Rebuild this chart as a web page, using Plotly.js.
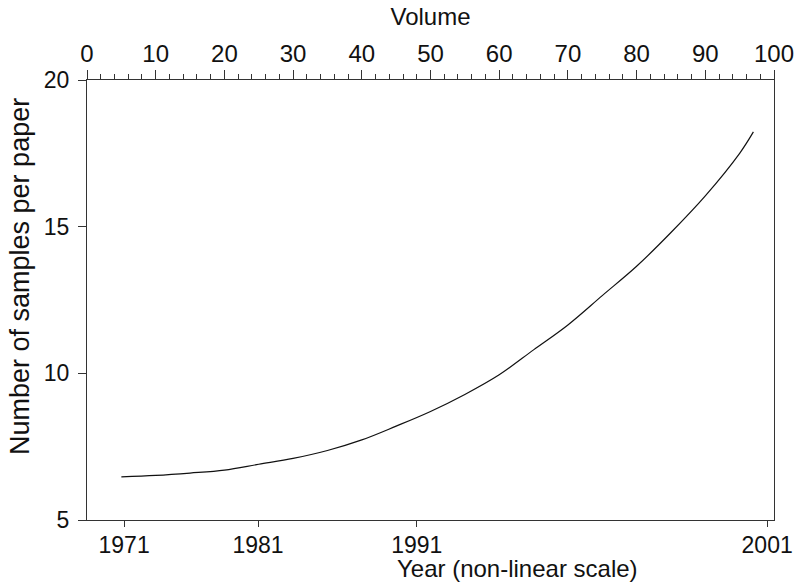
<!DOCTYPE html>
<html>
<head>
<meta charset="utf-8">
<script src="https://cdn.plot.ly/plotly-3.0.1.min.js"></script>
<style>html,body{margin:0;padding:0;background:#fff;}#chart{width:806px;height:586px;}</style>
</head>
<body>
<div id="chart"></div>
<script>
// Curve: volume number vs. samples per paper
const volume = [5, 10, 15, 20, 25, 30, 35, 40, 45, 50, 55, 60, 65, 70, 75, 80, 85, 90, 95, 97];
const samples = [6.47, 6.52, 6.6, 6.7, 6.9, 7.1, 7.37, 7.73, 8.2, 8.7, 9.28, 9.95, 10.8, 11.65, 12.65, 13.65, 14.8, 16.05, 17.5, 18.23];

// Bottom axis: year labels placed at their volume positions
const yearTickVolumes = [5.4, 24.9, 48, 99];
const yearTickLabels = ['1971', '1981', '1991', '2001'];

const yTicks = [5, 10, 15, 20];

const FONT = 'Liberation Sans, Arial, sans-serif';
const AX = '#333';

const trace = {
  x: volume, y: samples, type: 'scatter', mode: 'lines',
  line: {color: '#111', width: 1.2, shape: 'spline'},
  xaxis: 'x', yaxis: 'y', hoverinfo: 'skip', showlegend: false
};
// invisible trace to activate top axis
const traceTop = {
  x: [0, 100], y: [5, 5], type: 'scatter', mode: 'lines',
  line: {width: 0}, opacity: 0, xaxis: 'x2', yaxis: 'y', hoverinfo: 'skip', showlegend: false
};

const layout = {
  width: 806, height: 586,
  margin: {l: 87, r: 32, t: 80, b: 66},
  paper_bgcolor: '#fff', plot_bgcolor: '#fff',
  font: {family: FONT, size: 23, color: '#111'},
  showlegend: false,
  xaxis: {
    range: [0, 100], tickmode: 'array', tickvals: yearTickVolumes, ticktext: yearTickLabels,
    ticks: 'outside', ticklen: 6, tickcolor: AX, tickwidth: 1,
    showline: true, linecolor: AX, linewidth: 1, showgrid: false, zeroline: false,
    automargin: false, ticklabelstandoff: -2,
    tickfont: {family: FONT, size: 23, color: '#111'}
  },
  xaxis2: {
    overlaying: 'x', side: 'top', anchor: 'y',
    range: [0, 100], tickmode: 'linear', tick0: 0, dtick: 10,
    ticks: 'outside', ticklen: 9, tickcolor: AX, tickwidth: 1,
    minor: {dtick: 2, ticks: 'outside', ticklen: 5, tickcolor: AX, tickwidth: 1, showgrid: false},
    showline: true, linecolor: AX, linewidth: 1, showgrid: false, zeroline: false,
    automargin: false, ticklabelstandoff: -2,
    tickfont: {family: FONT, size: 24, color: '#111'},
    title: {text: 'Volume', font: {family: FONT, size: 24, color: '#111'}, standoff: 8}
  },
  yaxis: {
    range: [5, 20], tickmode: 'array', tickvals: yTicks,
    ticks: 'outside', ticklen: 8, tickcolor: AX, tickwidth: 1,
    showline: true, mirror: true, linecolor: AX, linewidth: 1, showgrid: false, zeroline: false,
    automargin: false, ticklabelstandoff: 4,
    tickfont: {family: FONT, size: 23, color: '#111'}
  },
  annotations: [
    {text: 'Year (non-linear scale)', xref: 'paper', yref: 'paper',
     x: (517 - 87) / 687, y: -(568 - 520) / 440, xanchor: 'center', yanchor: 'middle',
     showarrow: false, font: {family: FONT, size: 24, color: '#111'}},
    {text: 'Number of samples per paper', xref: 'paper', yref: 'paper',
     x: (20 - 87) / 687, y: (520 - 277) / 440, xanchor: 'center', yanchor: 'middle',
     textangle: -90, showarrow: false, font: {family: FONT, size: 27, color: '#111'}}
  ]
};

Plotly.newPlot('chart', [trace, traceTop], layout, {staticPlot: true, displayModeBar: false});
</script>
</body>
</html>
